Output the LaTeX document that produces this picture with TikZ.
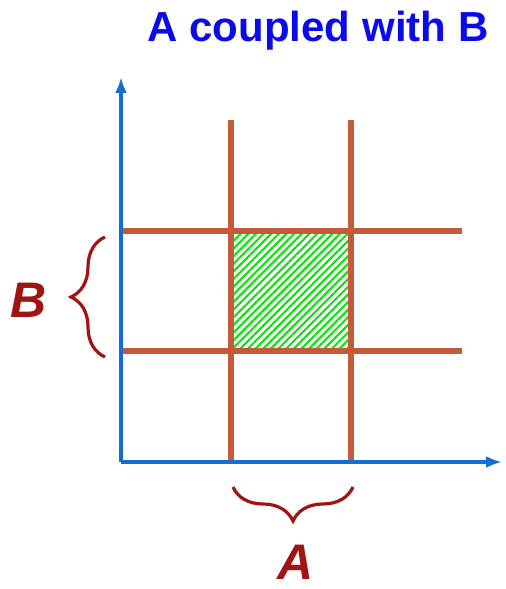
\documentclass[tikz,border=0pt]{standalone}
\usepackage{fontspec}
\setmainfont{Liberation Sans}
\usetikzlibrary{arrows.meta, decorations.pathreplacing, patterns.meta, positioning}
\definecolor{axisblue}{RGB}{20,110,210}
\definecolor{gridbrown}{RGB}{196,90,58}
\definecolor{bracered}{RGB}{160,20,20}
\definecolor{hatchgreen}{RGB}{20,225,20}
\definecolor{titleblue}{RGB}{10,10,235}
\tikzset{
  axis/.style={axisblue, line width=1.7pt, -{Latex[length=8pt,width=6pt]}},
  gridline/.style={gridbrown, line width=3pt},
  bracket/.style={bracered, line width=1.6pt, decorate, decoration={brace, amplitude=17pt, aspect=0.5}},
  setlabel/.style={bracered, font=\fontsize{25}{25}\selectfont\bfseries\itshape}
}
\begin{document}
\begin{tikzpicture}[x=0.5pt, y=0.5pt]
\useasboundingbox (0,0) rectangle (506,589);
% corners of the coupled region
\coordinate (o) at (121,127);
\coordinate (ytip) at (121,512);
\coordinate (xtip) at (502,127);
\coordinate (a1) at (231,127);
\coordinate (a2) at (351,127);
\coordinate (b1) at (121,238);
\coordinate (b2) at (121,358);

% hatched square
\fill[pattern={Lines[angle=45, distance=2.7pt, line width=1.1pt]}, pattern color=hatchgreen]
  (231,238) rectangle (351,358);

% grid lines
\draw[gridline] (a1) -- (231,469);
\draw[gridline] (a2) -- (351,469);
\draw[gridline] (b1) -- (462,238);
\draw[gridline] (b2) -- (462,358);

% axes
\draw[axis] (o) -- (ytip);
\draw[axis] (o) -- (xtip);

% braces
\coordinate (bbot) at (105,232);
\coordinate (btop) at (105,352);
\draw[bracket] (bbot) -- (btop);
\node[setlabel] (B) at (29,289) {B};
\coordinate (aleft) at (233,102);
\coordinate (aright) at (353,102);
\draw[bracket] (aright) -- (aleft);
\node[setlabel] (A) at (296,27) {A};

% title
\node[titleblue, font=\fontsize{21}{22}\selectfont\bfseries] (title) at (318,558) {A coupled with B};
\end{tikzpicture}
\end{document}
